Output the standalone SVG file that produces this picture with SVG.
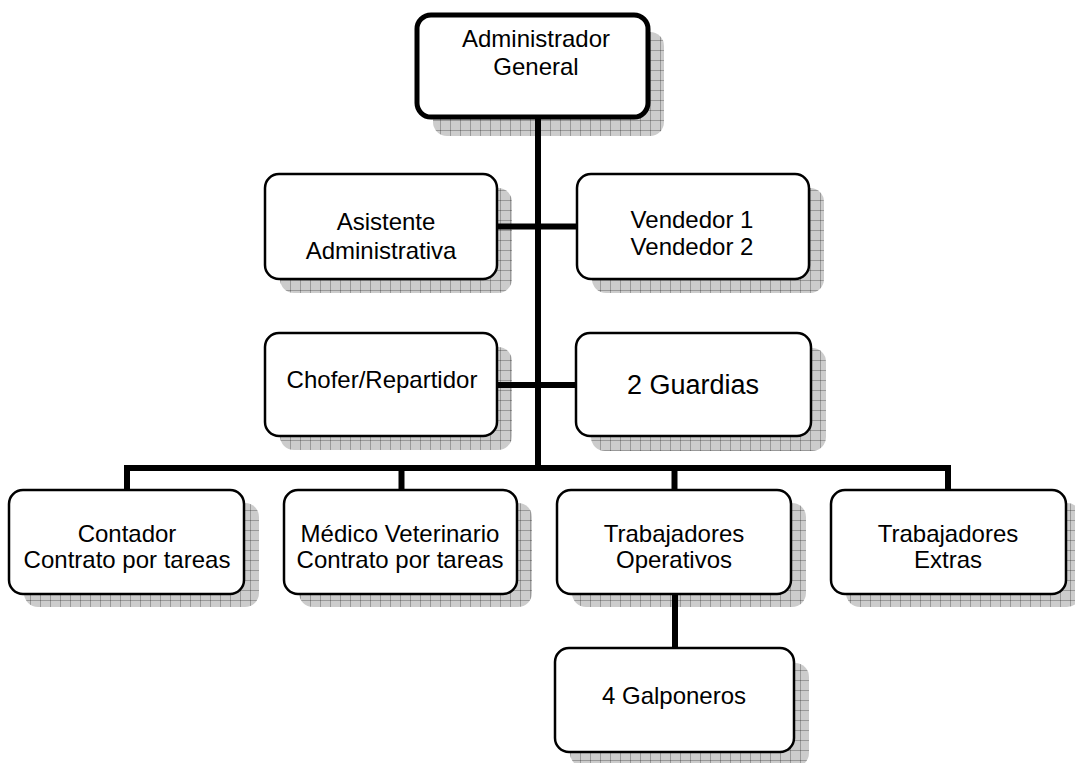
<svg xmlns="http://www.w3.org/2000/svg" width="1075" height="763" viewBox="0 0 1075 763">
<defs>
<pattern id="grid" x="0" y="0" width="10" height="10" patternUnits="userSpaceOnUse">
<rect width="10" height="10" fill="#000" fill-opacity="0.2"/>
<rect width="10" height="1" fill="#000" fill-opacity="0.25"/>
<rect width="1" height="10" fill="#000" fill-opacity="0.25"/>
</pattern>
</defs>
<style>
.box{fill:#fff;stroke:#000;stroke-width:2.5}
.top{stroke-width:5}
.sh{fill:url(#grid)}
.cn{fill:none;stroke:#000;stroke-width:6;stroke-linejoin:miter}
text{font-family:"Liberation Sans",Arial,sans-serif;font-size:24px;fill:#000;text-anchor:middle}
</style>
<rect width="1075" height="763" fill="#fff"/>
<g id="connectors">
<path class="cn" d="M538,119 V468"/>
<path class="cn" d="M498,226.5 H577"/>
<path class="cn" d="M498,385 H576"/>
<path class="cn" d="M127,490 V468 H948 V490"/>
<path class="cn" d="M401.5,468 V490"/>
<path class="cn" d="M674.5,468 V490"/>
<path class="cn" d="M675,595 V648"/>
</g>
<g id="n-admin">
<rect class="sh" x="433" y="32" width="231" height="104" rx="14"/>
<rect class="box top" x="417" y="15" width="231" height="102" rx="14"/>
<text x="536" y="47">Administrador</text>
<text x="536" y="75">General</text>
</g>
<g id="n-asistente">
<rect class="sh" x="280" y="188" width="232" height="105" rx="14"/>
<rect class="box" x="265" y="174" width="232" height="105" rx="14"/>
<text x="386" y="230">Asistente</text>
<text x="381" y="259">Administrativa</text>
</g>
<g id="n-vendedor">
<rect class="sh" x="592" y="188" width="232" height="105" rx="14"/>
<rect class="box" x="577" y="174" width="232" height="105" rx="14"/>
<text x="692" y="228">Vendedor 1</text>
<text x="692" y="255">Vendedor 2</text>
</g>
<g id="n-chofer">
<rect class="sh" x="280" y="347" width="232" height="103" rx="14"/>
<rect class="box" x="265" y="333" width="232" height="103" rx="14"/>
<text x="382" y="388">Chofer/Repartidor</text>
</g>
<g id="n-guardias">
<rect class="sh" x="591" y="348" width="235" height="103" rx="14"/>
<rect class="box" x="576" y="333" width="235" height="103" rx="14"/>
<text x="693" y="394" style="font-size:27px">2 Guardias</text>
</g>
<g id="n-contador">
<rect class="sh" x="24" y="503" width="235" height="104" rx="14"/>
<rect class="box" x="9" y="490" width="235" height="104" rx="14"/>
<text x="127" y="542">Contador</text>
<text x="127" y="568">Contrato por tareas</text>
</g>
<g id="n-medico">
<rect class="sh" x="299" y="503" width="233" height="104" rx="14"/>
<rect class="box" x="284" y="490" width="233" height="104" rx="14"/>
<text x="400" y="542">Médico Veterinario</text>
<text x="400" y="568">Contrato por tareas</text>
</g>
<g id="n-operativos">
<rect class="sh" x="572" y="503" width="234" height="104" rx="14"/>
<rect class="box" x="557" y="490" width="234" height="104" rx="14"/>
<text x="674" y="542">Trabajadores</text>
<text x="674" y="568">Operativos</text>
</g>
<g id="n-extras">
<rect class="sh" x="846" y="503" width="235" height="104" rx="14"/>
<rect class="box" x="831" y="490" width="235" height="104" rx="14"/>
<text x="948" y="542">Trabajadores</text>
<text x="948" y="568">Extras</text>
</g>
<g id="n-galponeros">
<rect class="sh" x="570" y="663" width="239" height="104" rx="14"/>
<rect class="box" x="555" y="648" width="239" height="104" rx="14"/>
<text x="674" y="704">4 Galponeros</text>
</g>
</svg>
